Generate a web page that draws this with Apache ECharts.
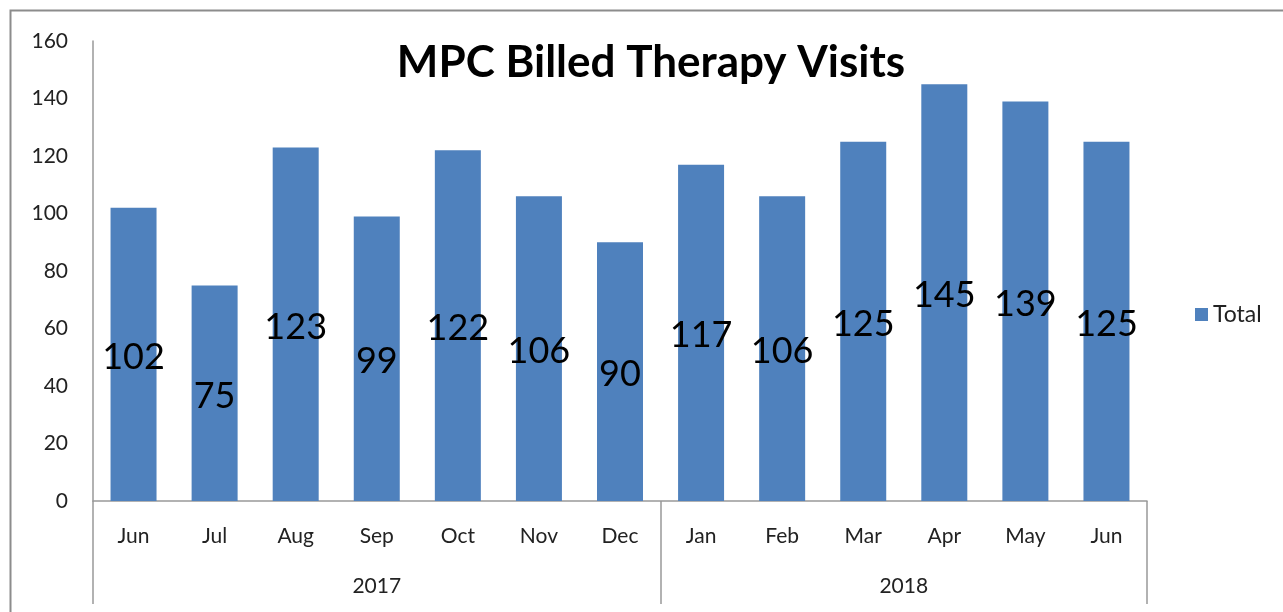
<!DOCTYPE html>
<html>
<head>
<meta charset="utf-8">
<script src="https://cdn.jsdelivr.net/npm/echarts@6/dist/echarts.min.js"></script>
<style>
  html, body { margin: 0; padding: 0; background: #fff; }
  #chart { width: 1283px; height: 612px; }
</style>
</head>
<body>
<div id="chart"></div>
<script>
const months = ['Jun', 'Jul', 'Aug', 'Sep', 'Oct', 'Nov', 'Dec', 'Jan', 'Feb', 'Mar', 'Apr', 'May', 'Jun']
const totals = [102, 75, 123, 99, 122, 106, 90, 117, 106, 125, 145, 139, 125]
const years = ['2017', '2018']
// year group boundaries (in category units) and their centers
const yearBounds = [0, 7, 13]
const yearCenters = [3.5, 10]

const font = 'Lato, "Open Sans", sans-serif'
const chart = echarts.init(document.getElementById('chart'))

chart.setOption({
  animation: false,
  title: {
    text: 'MPC Billed Therapy Visits',
    left: 646,
    top: 36,
    textAlign: 'center',
    textStyle: { fontFamily: font, fontSize: 44, fontWeight: 'bold', color: '#000' }
  },
  legend: {
    data: ['Total'],
    left: 1190,
    top: 298,
    itemWidth: 13,
    itemHeight: 13,
    itemGap: 8,
    icon: 'rect',
    textStyle: { fontFamily: font, fontSize: 23, color: '#222' }
  },
  grid: {
    left: 93,
    right: 136,
    top: 41,
    bottom: 111
  },
  xAxis: [
    {
      type: 'category',
      data: months,
      axisLine: { lineStyle: { color: '#999', width: 1.5 } },
      axisTick: { show: false },
      axisLabel: { fontFamily: font, fontSize: 21, color: '#222', margin: 25 }
    },
    {
      type: 'value',
      position: 'bottom',
      min: 0,
      max: 13,
      axisLine: { show: false },
      splitLine: { show: false },
      axisTick: {
        show: true,
        customValues: yearBounds,
        length: 103,
        lineStyle: { color: '#999', width: 1.5 }
      },
      axisLabel: {
        customValues: yearCenters,
        formatter: (v) => years[yearCenters.indexOf(v)],
        fontFamily: font,
        fontSize: 21,
        color: '#222',
        margin: 75
      }
    }
  ],
  yAxis: {
    type: 'value',
    min: 0,
    max: 160,
    interval: 20,
    axisLine: { show: true, lineStyle: { color: '#999', width: 1.5 } },
    axisTick: { show: false },
    splitLine: { show: false },
    axisLabel: { fontFamily: font, fontSize: 21, color: '#222', margin: 25 }
  },
  series: [
    {
      name: 'Total',
      type: 'bar',
      data: totals,
      barWidth: 46,
      itemStyle: { color: '#4F81BD' },
      label: {
        show: true,
        position: 'inside',
        offset: [0, 3],
        fontFamily: font,
        fontSize: 36,
        color: '#000',
        textBorderWidth: 0
      }
    }
  ],
  graphic: [
    {
      type: 'rect',
      shape: { x: 10.5, y: 10.5, width: 1400, height: 800 },
      style: { fill: 'none', stroke: '#8c8c8c', lineWidth: 2 },
      silent: true
    }
  ]
})
</script>
</body>
</html>
